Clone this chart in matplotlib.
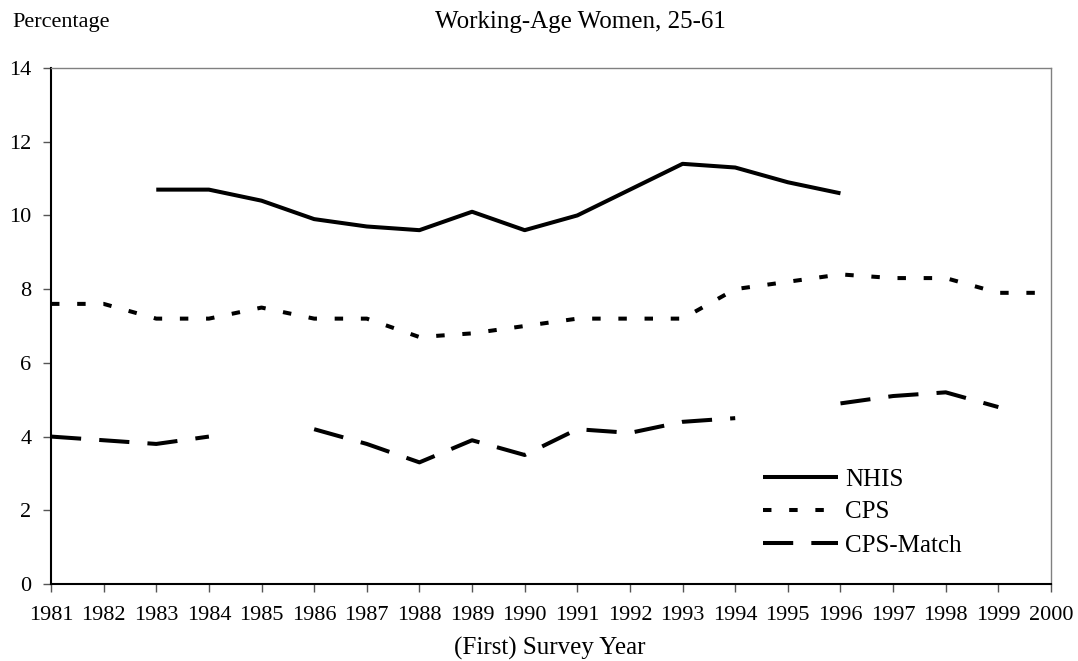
import matplotlib
matplotlib.use("Agg")
import matplotlib.pyplot as plt
import numpy as np

years = list(range(1981, 2001))
nhis = [np.nan, np.nan, 10.7, 10.7, 10.4, 9.9, 9.7, 9.6, 10.1, 9.6,
        10.0, 10.7, 11.4, 11.3, 10.9, 10.6, np.nan, np.nan, np.nan, np.nan]
cps = [7.6, 7.6, 7.2, 7.2, 7.5, 7.2, 7.2, 6.7, 6.8, 7.0,
       7.2, 7.2, 7.2, 8.0, 8.2, 8.4, 8.3, 8.3, 7.9, 7.9]
cps_match = [4.0, 3.9, 3.8, 4.0, np.nan, 4.2, 3.8, 3.3, 3.9, 3.5,
             4.2, 4.1, 4.4, 4.5, np.nan, 4.9, 5.1, 5.2, 4.8, np.nan]

plt.rcParams['font.family'] = ['Liberation Serif', 'DejaVu Serif']
tick_fs = 16
big_fs = 18

fig = plt.figure(figsize=(10.78, 6.61), dpi=100)
ax = fig.add_axes([51 / 1078, 77 / 661, 1000 / 1078, 516 / 661])

lw = 2.9
ax.plot(years, nhis, color='black', lw=lw, solid_capstyle='butt', label='NHIS')
ax.plot(years, cps, color='black', lw=lw, dashes=(2.1, 4.4), dash_capstyle='butt', label='CPS')
ax.plot(years, cps_match, color='black', lw=lw, dashes=(7.5, 4.5), dash_capstyle='butt', label='CPS-Match')

ax.set_xlim(1981, 2000)
ax.set_ylim(0, 14)
ax.set_xticks(years)
ax.set_xticklabels([str(y) for y in years])
ax.set_yticks(range(0, 15, 2))
ax.tick_params(axis='both', direction='out', length=6, width=1, labelsize=tick_fs, color='#555555')
ax.tick_params(axis='y', pad=8)
ax.tick_params(axis='x', pad=10)

for side in ['top', 'right']:
    ax.spines[side].set_color('#808080')
    ax.spines[side].set_linewidth(1)
for side in ['left', 'bottom']:
    ax.spines[side].set_color('black')
    ax.spines[side].set_linewidth(1.5)

fig.text(12 / 1078, 1 - 22 / 661, 'Percentage', fontsize=tick_fs, va='center', ha='left')
fig.text(580 / 1078, 1 - 22 / 661, 'Working-Age Women, 25-61', fontsize=big_fs, va='center', ha='center')
fig.text(550 / 1078, 1 - 648 / 661, '(First) Survey Year', fontsize=big_fs, va='center', ha='center')

leg = ax.legend(loc='upper left', bbox_to_anchor=(763 / 1078, 1 - 468 / 661),
                bbox_transform=fig.transFigure, frameon=False, fontsize=big_fs,
                handlelength=3.0, handletextpad=0.28, labelspacing=0.42,
                borderaxespad=0, borderpad=0)

fig.savefig('out.png', dpi=100)
